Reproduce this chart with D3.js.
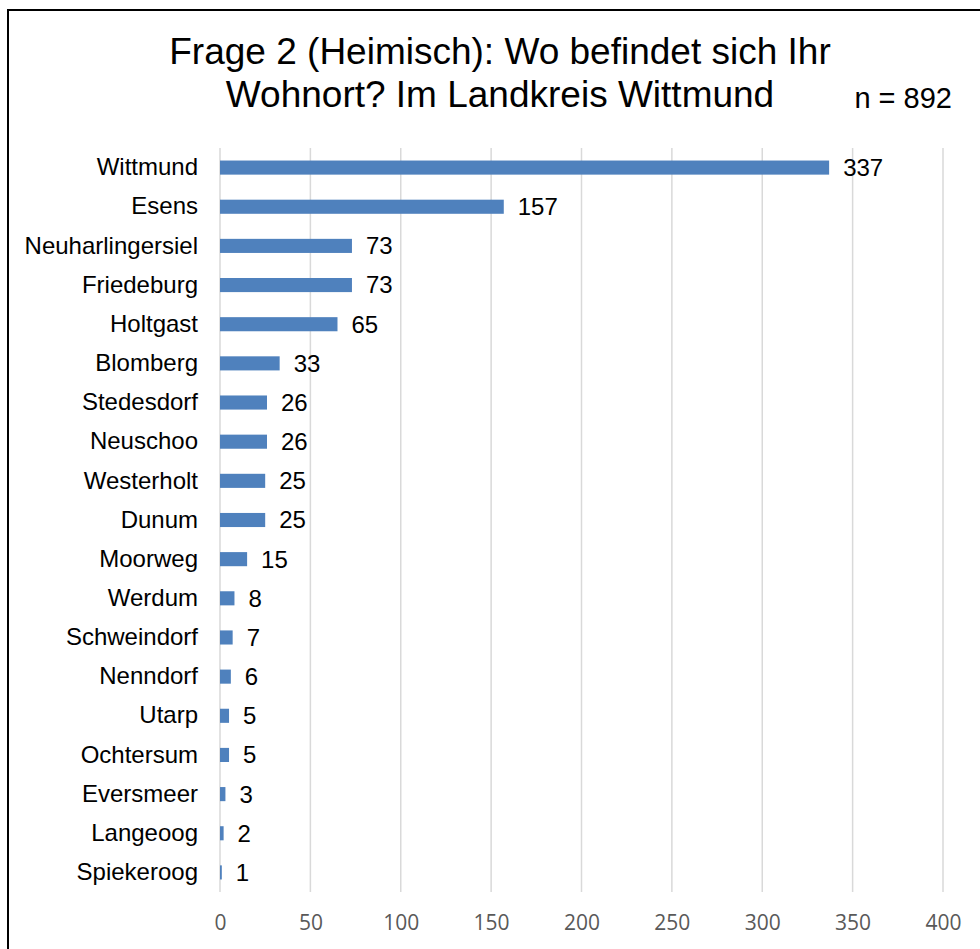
<!DOCTYPE html>
<html>
<head>
<meta charset="utf-8">
<script src="https://cdn.jsdelivr.net/npm/d3@7"></script>
<style>
  html, body { margin: 0; padding: 0; background: #ffffff; }
  svg { display: block; }
</style>
</head>
<body>
<svg id="chart" width="980" height="949"></svg>
<script>
const categories = ["Wittmund","Esens","Neuharlingersiel","Friedeburg","Holtgast","Blomberg","Stedesdorf","Neuschoo","Westerholt","Dunum","Moorweg","Werdum","Schweindorf","Nenndorf","Utarp","Ochtersum","Eversmeer","Langeoog","Spiekeroog"];
const values = [337,157,73,73,65,33,26,26,25,25,15,8,7,6,5,5,3,2,1];
const tickValues = [0,50,100,150,200,250,300,350,400];
const titleLines = ["Frage 2 (Heimisch): Wo befindet sich Ihr", "Wohnort? Im Landkreis Wittmund"];
const nLabel = "n = 892";

const svg = d3.select("#chart");
const W = 980, H = 949;
const plot = {left: 220, right: 943, top: 148, bottom: 892};

svg.append("rect").attr("x", 0).attr("y", 0).attr("width", W).attr("height", H).attr("fill", "#fff");
// frame
svg.append("rect").attr("x", 8).attr("y", 10).attr("width", 1100).attr("height", 1100)
  .attr("fill", "none").attr("stroke", "#000").attr("stroke-width", 2);

const x = d3.scaleLinear().domain([0, 400]).range([plot.left, plot.right]);
const y = d3.scaleBand().domain(categories).range([plot.top, plot.bottom])
  .paddingInner(0.64).paddingOuter(0.32);

// gridlines
svg.append("g").selectAll("line").data(tickValues).join("line")
  .attr("x1", d => x(d)).attr("x2", d => x(d))
  .attr("y1", plot.top).attr("y2", plot.bottom)
  .attr("stroke", "#d9d9d9").attr("stroke-width", 1.5);

// x axis tick labels
const xAxis = d3.axisBottom(x).tickValues(tickValues).tickSize(0).tickPadding(0);
const gx = svg.append("g").attr("transform", `translate(0,${plot.bottom})`).call(xAxis);
gx.select(".domain").remove();
gx.selectAll("text").attr("dy", null).attr("y", 38)
  .attr("font-family", "'Open Sans', sans-serif").attr("font-size", 21).attr("fill", "#595959");

// bars
svg.append("g").selectAll("rect").data(values).join("rect")
  .attr("x", x(0))
  .attr("y", (d, i) => y(categories[i]))
  .attr("width", d => x(d) - x(0))
  .attr("height", y.bandwidth())
  .attr("fill", "#4f81bd");

// value labels
svg.append("g").selectAll("text").data(values).join("text")
  .attr("x", d => x(d) + 14)
  .attr("y", (d, i) => y(categories[i]) + y.bandwidth() / 2)
  .attr("dy", "0.35em")
  .attr("font-family", "'Liberation Sans', Arial, sans-serif").attr("font-size", 24).attr("fill", "#000")
  .text(d => d);

// category labels (y axis)
const yAxis = d3.axisLeft(y).tickSize(0).tickPadding(22);
const gy = svg.append("g").attr("transform", `translate(${plot.left},0)`).call(yAxis);
gy.select(".domain").remove();
gy.selectAll("text").attr("font-family", "'Liberation Sans', Arial, sans-serif")
  .attr("font-size", 24).attr("fill", "#000");

// title
svg.append("g").selectAll("text").data(titleLines).join("text")
  .attr("x", 500).attr("y", (d, i) => 64 + i * 43)
  .attr("text-anchor", "middle")
  .attr("font-family", "'Liberation Sans', Arial, sans-serif").attr("font-size", 37).attr("fill", "#000")
  .text(d => d);

svg.append("text").attr("x", 952).attr("y", 108).attr("text-anchor", "end")
  .attr("font-family", "'Liberation Sans', Arial, sans-serif").attr("font-size", 29).attr("fill", "#000")
  .text(nLabel);
</script>
</body>
</html>
